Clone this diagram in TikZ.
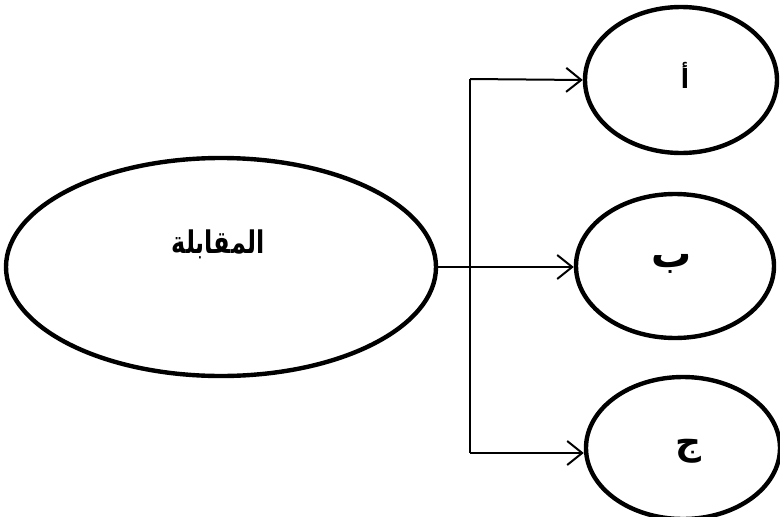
\documentclass[tikz,border=0pt]{standalone}
\usepackage{fontspec}
\usetikzlibrary{shapes.geometric,arrows.meta}
\TeXXeTstate=1
\newfontfamily\arabicfont[Script=Arabic]{DejaVu Sans}
\tikzset{
  oval/.style={draw=black, ellipse, line width=4.4pt, inner sep=0pt, fill=white},
  conn/.style={draw=black, line width=2pt},
  arr/.style={conn, -{Straight Barb[length=15pt,width=24pt,line width=2pt]}},
  ar/.style={font=\arabicfont\bfseries\fontsize{#1}{#1}\selectfont, inner sep=0pt}
}
\begin{document}
\begin{tikzpicture}[x=1pt,y=-1pt]
  \useasboundingbox (0,0) rectangle (780,517);
  \clip (0,0) rectangle (780,517);
  \fill[white] (0,0) rectangle (780,517);
  \node[oval, minimum width=430pt, minimum height=218pt] (m) at (221,267) {};
  \node[ar=24] (mt) at (218,244) {\scalebox{1}[1.3]{\beginR المقابلة\endR}};
  \node[oval, minimum width=192pt, minimum height=146pt] (a) at (681,80) {};
  \node[ar=24] (at) at (685,75) {\scalebox{1}[1.1]{\beginR أ\endR}};
  \node[oval, minimum width=198pt, minimum height=144pt] (b) at (675,266) {};
  \node[ar=40] (bt) at (672,264) {\beginR ب\endR};
  \node[oval, minimum width=194pt, minimum height=142pt] (c) at (683,448) {};
  \node[ar=36] (ct) at (688,451) {\beginR ج\endR};
  \coordinate (j1) at (470,79);
  \coordinate (j3) at (470,453);
  \draw[conn] (j1) -- (j3);
  \draw[arr] (m.east) -- (b.west |- m.east);
  \draw[arr] (j1) -- (a.west);
  \draw[arr] (j3) -- (c.west |- j3);
\end{tikzpicture}
\end{document}
